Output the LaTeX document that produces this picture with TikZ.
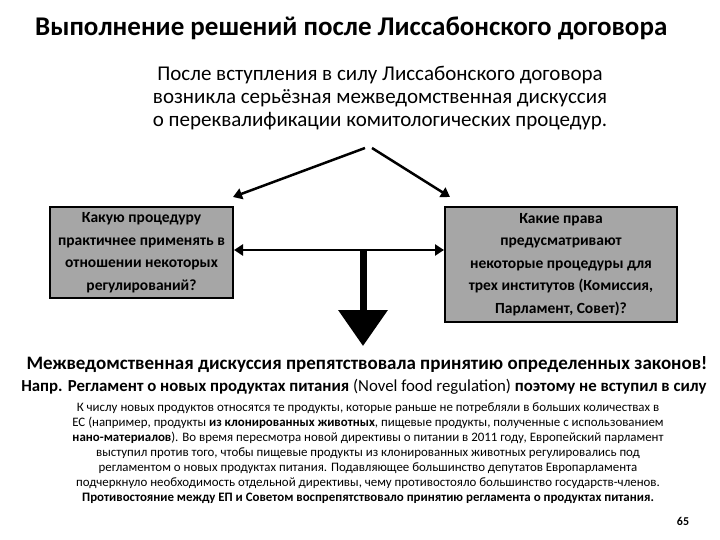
\documentclass[tikz,border=0pt]{standalone}
\usepackage{fontspec}
\setmainfont{Carlito}
\usetikzlibrary{arrows.meta}
\begin{document}
\begin{tikzpicture}[x=1pt,y=-1pt,
  qbox/.style={draw=black,line width=2pt,fill=black!35,align=center,font=\fontsize{15.5}{22.6}\selectfont\bfseries,inner sep=0pt},
  arr/.style={line width=2.5pt,-{Triangle[length=9pt,width=11pt]}},
  txt/.style={align=center,inner sep=0pt}]
\useasboundingbox (0,0) rectangle (720,540);
\node[txt,anchor=west,font=\fontsize{27}{30}\selectfont\bfseries] (title) at (35,28) {Выполнение решений после Лиссабонского договора};
\node[txt,font=\fontsize{21}{23}\selectfont] (intro) at (380,98) {После вступления в силу Лиссабонского договора\\возникла серьёзная межведомственная дискуссия\\о переквалификации комитологических процедур.};
\coordinate (apL) at (365,148);
\coordinate (apR) at (372,148);
\node[qbox,minimum width=183pt,minimum height=91pt] (L) at (141.5,252.5) {Какую процедуру\\практичнее применять в\\отношении некоторых\\регулирований?};
\node[qbox,minimum width=232pt,minimum height=115pt] (R) at (561,264.5) {Какие права\\предусматривают\\некоторые процедуры для\\трех институтов (Комиссия,\\Парламент, Совет)?};
\coordinate (tL) at (233,197);
\coordinate (tR) at (450,197);
\draw[arr] (apL) -- (tL);
\draw[arr] (apR) -- (tR);
\draw[line width=2.5pt,{Triangle[length=9pt,width=11pt]}-{Triangle[length=9pt,width=11pt]}] (L.east |- 0,250) -- (R.west |- 0,250);
\coordinate (dTop) at (363,250);
\coordinate (dEnd) at (363,346);
\draw[line width=7pt,-{Triangle[length=36pt,width=48pt]}] (dTop) -- (dEnd);
\node[txt,font=\fontsize{19}{22}\selectfont\bfseries] (m1) at (367,365) {Межведомственная дискуссия препятствовала принятию определенных законов!};
\node[txt,font=\fontsize{16.8}{20}\selectfont] (m2) at (364,387) {\textbf{Напр. Регламент о новых продуктах питания} (Novel food regulation) \textbf{поэтому не вступил в силу}};
\node[txt,font=\fontsize{12.9}{15}\selectfont] (small) at (368,453) {К числу новых продуктов относятся те продукты, которые раньше не потребляли в больших количествах в\\ЕС (например, продукты \textbf{из клонированных животных}, пищевые продукты, полученные с использованием\\\textbf{нано-материалов}). Во время пересмотра новой директивы о питании в 2011 году, Европейский парламент\\выступил против того, чтобы пищевые продукты из клонированных животных регулировались под\\регламентом о новых продуктах питания. Подавляющее большинство депутатов Европарламента\\подчеркнуло необходимость отдельной директивы, чему противостояло большинство государств-членов.\\\textbf{Противостояние между ЕП и Советом воспрепятствовало принятию регламента о продуктах питания.}};
\node[txt,font=\fontsize{12}{13}\selectfont\bfseries] (pg) at (683,521) {65};
\end{tikzpicture}
\end{document}
